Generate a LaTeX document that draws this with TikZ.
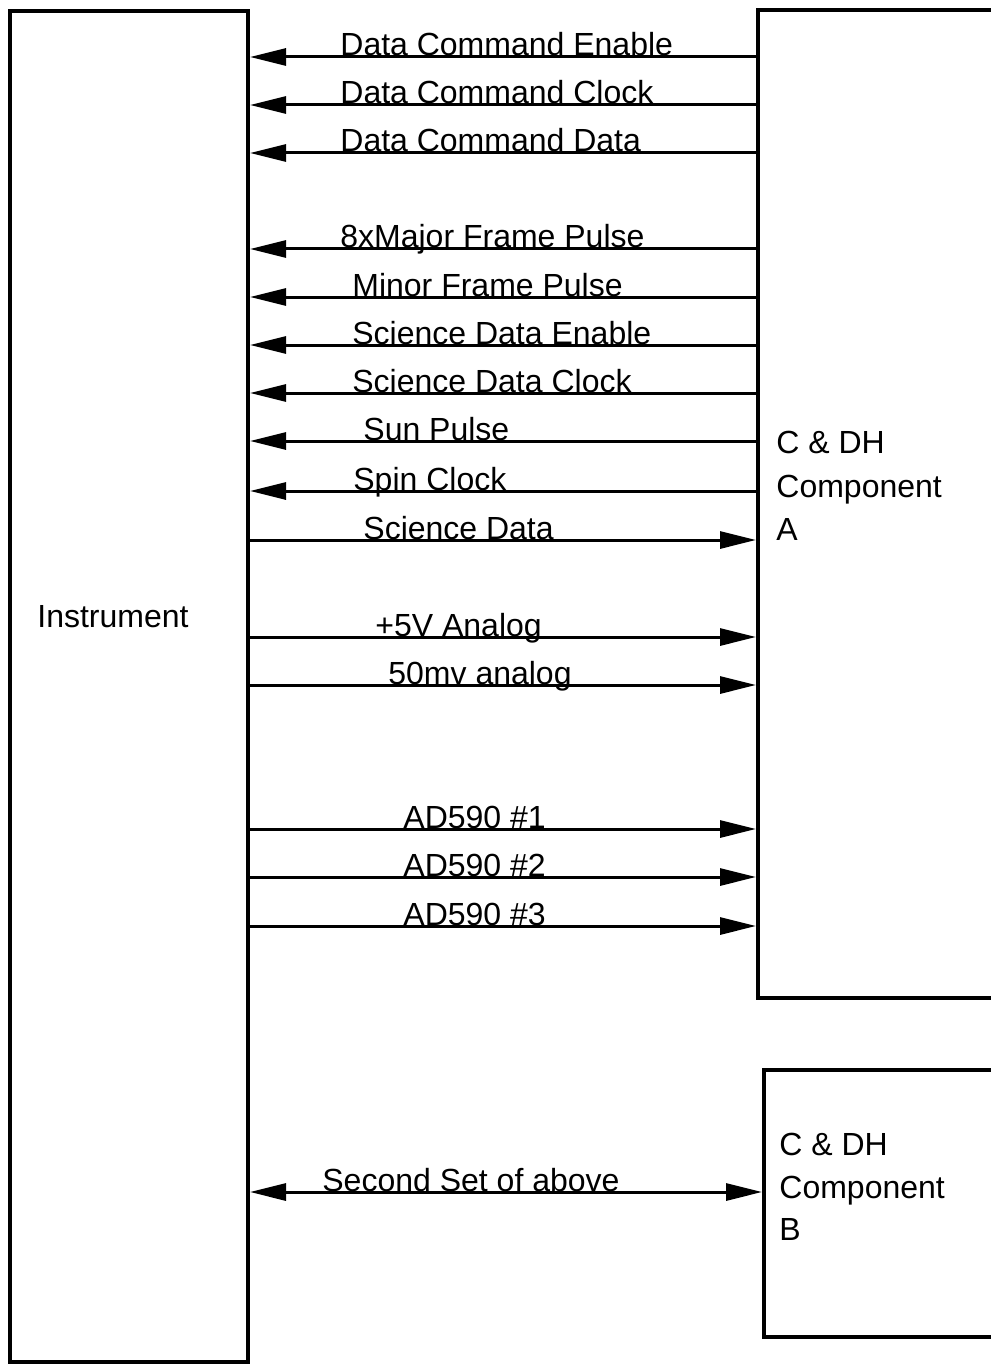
\documentclass[tikz,border=0pt]{standalone}
\usepackage{fontspec}
\setmainfont{Liberation Sans}
\usetikzlibrary{arrows.meta}
\begin{document}
\begin{tikzpicture}[x=0.5pt,y=-0.5pt,
  box/.style={draw, line width=2pt, inner sep=0, rectangle},
  sig/.style={line width=1.5pt},
  tip/.style={-{Triangle[length=18pt,width=8.5pt]}},
  lbl/.style={anchor=base west, inner sep=0, font=\fontsize{16pt}{19pt}\selectfont},
  blk/.style={anchor=base west, inner sep=0, font=\fontsize{16pt}{22pt}\selectfont}]
\useasboundingbox (0,0) rectangle (990,1364);
% boxes
\node[box, minimum width=119pt, minimum height=675.5pt] (inst) at (129,686.5) {};
\node[box, minimum width=121pt, minimum height=494pt] (A) at (879,504) {};
\node[box, minimum width=118pt, minimum height=133.5pt] (B) at (882,1203.5) {};
% box texts
\node[blk] (instT) at (37,627) {Instrument};
\node[blk] (AT1) at (776,453) {C \& DH};
\node[blk] (AT2) at (776,497) {Component};
\node[blk] (AT3) at (776,540) {A};
\node[blk] (BT1) at (779,1155) {C \& DH};
\node[blk] (BT2) at (779,1198) {Component};
\node[blk] (BT3) at (779,1240) {B};
% signals from A to instrument
\foreach \y/\x/\t/\n in {57/340/Data Command Enable/s1,
                          105/340/Data Command Clock/s2,
                          153/340/Data Command Data/s3,
                          249/340/8xMajor Frame Pulse/s4,
                          297/352/Minor Frame Pulse/s5,
                          345/352/Science Data Enable/s6,
                          393/352/Science Data Clock/s7,
                          441/363/Sun Pulse/s8,
                          491/353/Spin Clock/s9}{
  \coordinate (\n) at (0,\y);
  \draw[sig,tip] (A.west |- \n) -- (inst.east |- \n);
  \node[lbl] (\n l) at (\x,\y-1) {\t};
}
% signals from instrument to A
\foreach \y/\x/\t/\n in {540/363/Science Data/r1,
                          637/375/+5V Analog/r2,
                          685/388/50mv analog/r3,
                          829/403/AD590 \#1/r4,
                          877/403/AD590 \#2/r5,
                          926/403/AD590 \#3/r6}{
  \coordinate (\n) at (0,\y);
  \draw[sig,tip] (inst.east |- \n) -- (A.west |- \n);
  \node[lbl] (\n l) at (\x,\y-1) {\t};
}
% second set
\coordinate (d1) at (0,1192);
\draw[sig,{Triangle[length=18pt,width=8.5pt]}-{Triangle[length=18pt,width=8.5pt]}] (inst.east |- d1) -- (B.west |- d1);
\node[lbl] (d1l) at (322,1191) {Second Set of above};
\end{tikzpicture}
\end{document}
